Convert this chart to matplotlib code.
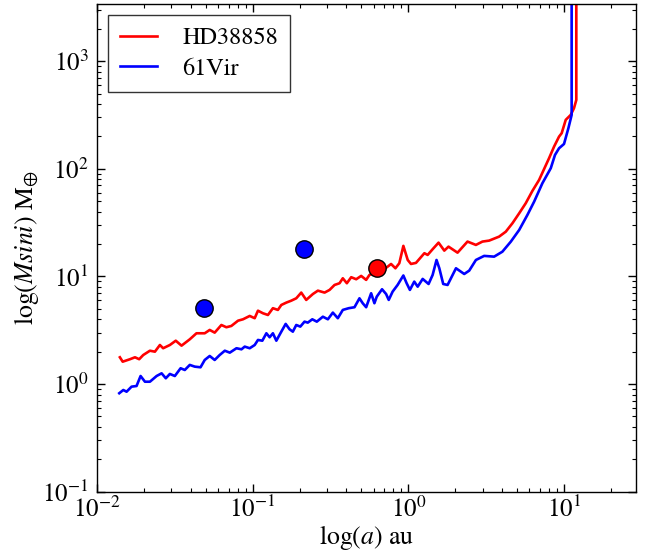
import numpy as np
import matplotlib
matplotlib.use("Agg")
import matplotlib.pyplot as plt

plt.rcParams['font.family'] = ['STIXGeneral', 'DejaVu Serif']
plt.rcParams['mathtext.fontset'] = 'stix'

# log10 of semi-major axis (au) and log10 of minimum mass (Earth masses)
log_a_hd = [-1.853, -1.835, -1.788, -1.756, -1.729, -1.703, -1.660, -1.628, -1.596, -1.575,
            -1.532, -1.494, -1.457, -1.404, -1.361, -1.308, -1.276, -1.244, -1.201, -1.169,
            -1.137, -1.094, -1.062, -1.019, -0.987, -0.966, -0.934, -0.902, -0.870, -0.838,
            -0.816, -0.784, -0.752, -0.720, -0.688, -0.656, -0.613, -0.581, -0.538, -0.506,
            -0.474, -0.442, -0.421, -0.395, -0.367, -0.335, -0.303, -0.271, -0.250, -0.218,
            -0.175, -0.133, -0.111, -0.083, -0.058, -0.032, -0.004, 0.017, 0.049, 0.103,
            0.124, 0.156, 0.194, 0.231, 0.258, 0.316, 0.380, 0.434, 0.476, 0.519,
            0.583, 0.626, 0.669, 0.712, 0.754, 0.797, 0.840, 0.904, 0.936, 0.968,
            0.985, 1.011, 1.043, 1.064, 1.079, 1.079]
log_m_hd = [0.249, 0.208, 0.231, 0.249, 0.231, 0.270, 0.310, 0.301, 0.363, 0.333,
            0.363, 0.403, 0.357, 0.416, 0.472, 0.472, 0.503, 0.478, 0.549, 0.528,
            0.540, 0.589, 0.602, 0.633, 0.612, 0.682, 0.658, 0.642, 0.705, 0.689,
            0.735, 0.757, 0.775, 0.797, 0.850, 0.782, 0.837, 0.868, 0.850, 0.875,
            0.921, 0.937, 0.983, 0.937, 0.993, 0.974, 1.005, 0.968, 1.014, 1.030,
            1.045, 1.091, 1.116, 1.076, 1.123, 1.284, 1.153, 1.116, 1.126, 1.216,
            1.200, 1.253, 1.314, 1.240, 1.277, 1.221, 1.324, 1.293, 1.324, 1.333,
            1.370, 1.416, 1.495, 1.587, 1.680, 1.795, 1.897, 2.099, 2.206, 2.299,
            2.331, 2.455, 2.501, 2.563, 2.640, 5.0]

log_a_vir = [-1.857, -1.831, -1.810, -1.778, -1.746, -1.720, -1.692, -1.660, -1.617, -1.585,
             -1.558, -1.532, -1.500, -1.463, -1.436, -1.404, -1.372, -1.335, -1.308, -1.276,
             -1.244, -1.212, -1.179, -1.147, -1.104, -1.072, -1.051, -1.019, -0.987, -0.966,
             -0.938, -0.912, -0.891, -0.870, -0.848, -0.816, -0.788, -0.763, -0.742, -0.720,
             -0.694, -0.667, -0.646, -0.617, -0.588, -0.549, -0.517, -0.485, -0.453, -0.421,
             -0.383, -0.346, -0.314, -0.293, -0.271, -0.239, -0.218, -0.203, -0.169, -0.143,
             -0.126, -0.101, -0.069, -0.032, -0.011, 0.010, 0.038, 0.060, 0.092, 0.130,
             0.156, 0.181, 0.199, 0.224, 0.252, 0.306, 0.359, 0.391, 0.434, 0.487,
             0.551, 0.604, 0.658, 0.712, 0.765, 0.808, 0.861, 0.915, 0.942, 0.968,
             1.000, 1.028, 1.049, 1.049]
log_m_vir = [-0.085, -0.055, -0.071, -0.024, -0.018, 0.075, 0.022, 0.022, 0.075, 0.100,
             0.054, 0.094, 0.075, 0.147, 0.131, 0.178, 0.162, 0.156, 0.224, 0.261,
             0.224, 0.270, 0.310, 0.292, 0.333, 0.323, 0.348, 0.333, 0.363, 0.410,
             0.403, 0.472, 0.435, 0.472, 0.403, 0.487, 0.559, 0.509, 0.487, 0.549,
             0.534, 0.580, 0.571, 0.602, 0.580, 0.626, 0.602, 0.664, 0.612, 0.689,
             0.705, 0.714, 0.797, 0.751, 0.714, 0.844, 0.751, 0.812, 0.881, 0.837,
             0.782, 0.859, 0.921, 1.009, 0.937, 0.875, 0.952, 0.905, 0.977, 0.930,
             1.014, 1.153, 1.076, 0.930, 0.921, 1.076, 1.023, 1.054, 1.153, 1.191,
             1.184, 1.230, 1.323, 1.432, 1.572, 1.695, 1.866, 2.006, 2.129, 2.191,
             2.231, 2.377, 2.501, 5.0]

# known planets
planet_a_vir = [0.049, 0.215]
planet_m_vir = [5.06, 18.0]
planet_a_hd = [0.627]
planet_m_hd = [11.9]

series_labels = ['HD38858', '61Vir']

fig = plt.figure(figsize=(6.49, 5.53), dpi=100)
fig.patch.set_facecolor('white')
ax = fig.add_axes([97/649, 1 - 491.7/553, (636-97)/649, (491.7-4)/553])

a_hd = 10 ** np.array(log_a_hd)
m_hd = 10 ** np.array(log_m_hd)
a_vir = 10 ** np.array(log_a_vir)
m_vir = 10 ** np.array(log_m_vir)

ax.plot(a_hd, m_hd, color='red', lw=1.9, label=series_labels[0], zorder=2,
        solid_joinstyle='round')
ax.plot(a_vir, m_vir, color='blue', lw=1.9, label=series_labels[1], zorder=2,
        solid_joinstyle='round')
ax.plot(planet_a_vir, planet_m_vir, 'o', color='blue', mec='black', mew=1.0,
        ms=12.5, zorder=3, linestyle='none')
ax.plot(planet_a_hd, planet_m_hd, 'o', color='red', mec='black', mew=1.0,
        ms=12.5, zorder=3, linestyle='none')

ax.set_xscale('log')
ax.set_yscale('log')
ax.set_xlim(0.01, 29)
ax.set_ylim(0.1, 3400)

ax.tick_params(which='both', direction='in', top=True, right=True, labelsize=18)
ax.tick_params(axis='x', which='major', pad=4)
ax.tick_params(axis='y', which='major', pad=6)
ax.tick_params(which='major', length=5.5, width=1)
ax.tick_params(which='minor', length=2.8, width=0.8)
for s in ax.spines.values():
    s.set_linewidth(1.0)

ax.set_xlabel(r'log($a$) au', fontsize=18.5, labelpad=0)
ax.set_ylabel(r'log($Msini$) M$_{\oplus}$', fontsize=18.5, labelpad=1)

leg = ax.legend(loc='upper left', fontsize=17.5, fancybox=False, frameon=True,
                edgecolor='black', handlelength=1.5, handletextpad=1.05,
                borderpad=0.5, labelspacing=0.35, borderaxespad=0.45)
leg.get_frame().set_linewidth(1.0)

fig.savefig('out.png', dpi=100, facecolor='white')
